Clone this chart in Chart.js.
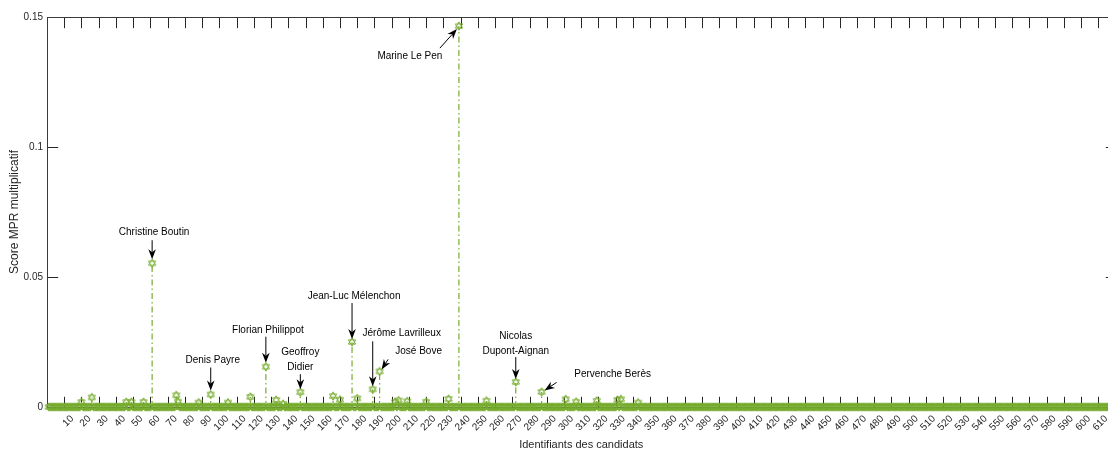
<!DOCTYPE html>
<html>
<head>
<meta charset="utf-8">
<script src="https://cdn.jsdelivr.net/npm/chart.js@4.4.1/dist/chart.umd.min.js"></script>
<style>
html, body { margin: 0; padding: 0; background: #fff; overflow: hidden; }
#wrap { width: 1130px; height: 452px; position: relative; }
</style>
</head>
<body>
<div id="wrap"><canvas id="mprChart"></canvas></div>
<script>
// Candidates are numbered 1..candidateCount; ids not listed below score 0
const candidateCount = 620;

// Labelled candidates
const namedIds = [61, 95, 127, 147, 177, 189, 193, 239, 272, 287];
const namedScores = [0.0553, 0.0048, 0.0155, 0.0057, 0.025, 0.0068, 0.0137, 0.1465, 0.0096, 0.0058];
const namedLabels = [
    ['Christine Boutin'], ['Denis Payre'], ['Florian Philippot'], ['Geoffroy', 'Didier'],
    ['Jean-Luc Mélenchon'], ['Jérôme Lavrilleux'], ['José Bove'], ['Marine Le Pen'],
    ['Nicolas', 'Dupont-Aignan'], ['Pervenche Berès']
];

// Small bumps just above the baseline
const minorIds = [20, 26, 46, 49, 56, 75, 76, 88, 105, 118, 133, 137, 166, 170, 180,
    202, 204, 209, 220, 233, 255, 301, 307, 319, 331, 333, 343];
const minorScores = [0.0019, 0.0037, 0.0019, 0.0019, 0.0019, 0.0045, 0.002, 0.0017, 0.0017, 0.0039, 0.0027, 0.0012, 0.0042, 0.0028, 0.0033,
    0.0019, 0.0025, 0.0022, 0.002, 0.0031, 0.0024, 0.003, 0.002, 0.0024, 0.0027, 0.003, 0.0017];

// Callout placement, pixel offsets from the marker (text centre, arrow tail, arrow tip)
const calloutLayout = [
    { text: [2, -31], tail: [0, -23], head: [0, -4] },
    { text: [2, -34], tail: [0, -27], head: [0, -4] },
    { text: [2, -36], tail: [0, -30], head: [0, -4] },
    { text: [0, -40], tail: [0, -18], head: [0, -3] },
    { text: [2, -46], tail: [0, -39], head: [0, -3] },
    { text: [29, -56], tail: [0, -48], head: [0, -3] },
    { text: [39, -20], tail: [8.5, -12], head: [2, -2] },
    { text: [-49, 30], tail: [-19, 22], head: [-2, 3] },
    { text: [0, -46], tail: [0, -25], head: [0, -3] },
    { text: [71, -18], tail: [15, -9.5], head: [3, -1.5] }
];

const green = '#77AC30';
const axisColor = '#262626';
const font = "'Liberation Sans', Arial, sans-serif";

// Build per-candidate scores
const scoreById = new Array(candidateCount).fill(0);
namedIds.forEach((id, i) => { scoreById[id - 1] = namedScores[i]; });
minorIds.forEach((id, i) => { scoreById[id - 1] = minorScores[i]; });

const markerPoints = scoreById.map((s, i) => ({ x: i + 1, y: s }));
const stemPoints = [];
scoreById.forEach((s, i) => {
    if (s > 0) {
        stemPoints.push({ x: i + 1, y: 0 }, { x: i + 1, y: s }, { x: i + 1, y: null });
    }
});

// Hexagram marker (six-pointed star outline)
function makeHexagram(r) {
    const size = Math.ceil(r * 2 + 3);
    const c = document.createElement('canvas');
    c.width = size; c.height = size;
    const g = c.getContext('2d');
    const cx = size / 2, cy = size / 2;
    g.strokeStyle = green;
    g.lineWidth = 1;
    [-90, 90].forEach(start => {
        g.beginPath();
        for (let k = 0; k < 3; k++) {
            const a = (start + k * 120) * Math.PI / 180;
            const px = cx + r * Math.cos(a), py = cy + r * Math.sin(a);
            if (k === 0) g.moveTo(px, py); else g.lineTo(px, py);
        }
        g.closePath();
        g.stroke();
    });
    return c;
}
const hexagram = makeHexagram(4.2);

function drawArrow(ctx, x1, y1, x2, y2) {
    const len = Math.hypot(x2 - x1, y2 - y1);
    const ux = (x2 - x1) / len, uy = (y2 - y1) / len;
    const nx = -uy, ny = ux;
    const L = 10, W = 3.8, notch = 3;
    ctx.beginPath();
    ctx.moveTo(x1, y1);
    ctx.lineTo(x2 - ux * (L - notch), y2 - uy * (L - notch));
    ctx.stroke();
    ctx.beginPath();
    ctx.moveTo(x2, y2);
    ctx.lineTo(x2 - ux * L + nx * W, y2 - uy * L + ny * W);
    ctx.lineTo(x2 - ux * (L - notch), y2 - uy * (L - notch));
    ctx.lineTo(x2 - ux * L - nx * W, y2 - uy * L - ny * W);
    ctx.closePath();
    ctx.fill();
}

// Axes box with inward tick marks (drawn under the data)
const framePlugin = {
    id: 'frame',
    beforeDatasetsDraw(chart) {
        const { ctx, chartArea: a, scales: { x, y } } = chart;
        const tl = 10.7;
        const L = Math.round(a.left) + 0.5, R = Math.round(a.right) + 0.5;
        const T = Math.round(a.top) + 0.5, B = Math.round(a.bottom) + 0.5;
        ctx.save();
        ctx.strokeStyle = axisColor;
        ctx.lineWidth = 1;
        ctx.beginPath();
        x.ticks.forEach(t => {
            const px = Math.round(x.getPixelForValue(t.value)) + 0.5;
            if (px <= L + 1 || px >= R - 1) return;
            ctx.moveTo(px, T); ctx.lineTo(px, T + tl);
            ctx.moveTo(px, B); ctx.lineTo(px, B - tl);
        });
        y.ticks.forEach(t => {
            const py = Math.round(y.getPixelForValue(t.value)) + 0.5;
            ctx.moveTo(L, py); ctx.lineTo(L + tl, py);
            ctx.moveTo(R, py); ctx.lineTo(R - tl, py);
        });
        ctx.stroke();
        ctx.strokeStyle = '#3a3a3a';
        ctx.strokeRect(L, T, R - L, B - T);
        ctx.restore();
    },
    afterDatasetsDraw(chart) {
        const { ctx, scales: { x, y } } = chart;
        ctx.save();
        ctx.fillStyle = '#000';
        ctx.strokeStyle = '#000';
        ctx.lineWidth = 1;
        ctx.font = '10px ' + font;
        ctx.textAlign = 'center';
        ctx.textBaseline = 'middle';
        namedIds.forEach((id, i) => {
            const px = x.getPixelForValue(id);
            const py = y.getPixelForValue(namedScores[i]);
            const lay = calloutLayout[i];
            namedLabels[i].forEach((line, k) => {
                ctx.fillText(line, px + lay.text[0], py + lay.text[1] + k * 15);
            });
            drawArrow(ctx, px + lay.tail[0], py + lay.tail[1], px + lay.head[0], py + lay.head[1]);
        });
        ctx.restore();
    }
};

new Chart(document.getElementById('mprChart'), {
    type: 'scatter',
    data: {
        datasets: [{
            label: 'markers',
            data: markerPoints,
            pointStyle: hexagram,
            pointRadius: 4,
            showLine: false,
            clip: false,
            order: 0
        }, {
            label: 'stems',
            data: stemPoints,
            showLine: true,
            spanGaps: false,
            pointRadius: 0,
            borderColor: green,
            borderWidth: 1.2,
            borderDash: [6, 3, 1.5, 3],
            clip: false,
            order: 1
        }]
    },
    options: {
        responsive: true,
        maintainAspectRatio: false,
        animation: false,
        events: [],
        layout: { padding: { top: 17, right: 13.5, left: 0, bottom: 0 } },
        plugins: {
            legend: { display: false },
            tooltip: { enabled: false }
        },
        scales: {
            x: {
                type: 'linear',
                min: 0,
                max: 620,
                grid: { display: false, drawTicks: false },
                border: { display: false },
                ticks: {
                    stepSize: 10,
                    autoSkip: false,
                    minRotation: 45,
                    maxRotation: 45,
                    padding: 6,
                    labelOffset: 8,
                    color: axisColor,
                    font: { family: font, size: 10 },
                    callback: v => (v === 0 ? '' : String(v))
                },
                title: {
                    display: true,
                    text: 'Identifiants des candidats',
                    color: axisColor,
                    font: { family: font, size: 11 },
                    padding: { top: 0, bottom: 0 }
                },
                afterFit(scale) { scale.height = 45; }
            },
            y: {
                min: 0,
                max: 0.15,
                grid: { display: false, drawTicks: false },
                border: { display: false },
                ticks: {
                    stepSize: 0.05,
                    padding: 4,
                    color: axisColor,
                    font: { family: font, size: 10 },
                    callback: v => String(+v.toFixed(2))
                },
                title: {
                    display: true,
                    text: 'Score MPR multiplicatif',
                    color: axisColor,
                    font: { family: font, size: 12 },
                    padding: { top: 7, bottom: 0 }
                },
                afterFit(scale) { scale.width = 47; }
            }
        }
    },
    plugins: [framePlugin]
});
</script>
</body>
</html>
